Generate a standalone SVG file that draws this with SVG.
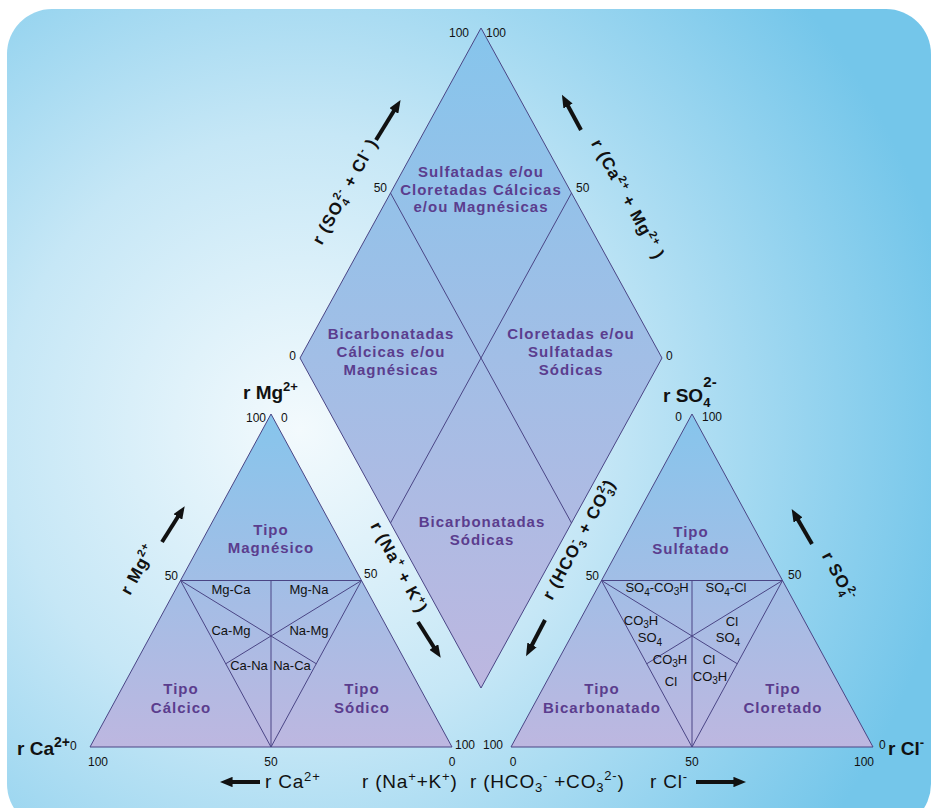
<svg xmlns="http://www.w3.org/2000/svg" width="931" height="808" viewBox="0 0 931 808">
<defs>
<radialGradient id="bg" gradientUnits="userSpaceOnUse" cx="300" cy="430" r="660">
<stop offset="0" stop-color="#f3fafd"/>
<stop offset="0.45" stop-color="#c6e7f6"/>
<stop offset="1" stop-color="#74c6ea"/>
</radialGradient>
<linearGradient id="fillG" x1="0" y1="0" x2="0" y2="1">
<stop offset="0" stop-color="#86c5ec"/>
<stop offset="1" stop-color="#bdb7e0"/>
</linearGradient>
<marker id="ah" viewBox="0 0 10 10" refX="2" refY="5" markerWidth="3.2" markerHeight="2.6" orient="auto" preserveAspectRatio="none">
<path d="M0,0 L10,5 L0,10 z" fill="#111"/>
</marker>
<style>
.shape{fill:url(#fillG);stroke:#4a4585;stroke-width:1}
.ln{stroke:#4a4585;stroke-width:1;fill:none}
.reg{font-family:"Liberation Sans",Arial,sans-serif;font-weight:bold;font-size:15px;fill:#5b3d8e;text-anchor:middle;letter-spacing:1px}
.num{font-family:"Liberation Sans",Arial,sans-serif;font-size:12px;fill:#111}
.mid{text-anchor:middle}
.end{text-anchor:end}
.sm{font-family:"Liberation Sans",Arial,sans-serif;font-size:13px;fill:#111;text-anchor:middle}
.ax{font-family:"Liberation Sans",Arial,sans-serif;font-weight:bold;font-size:19px;fill:#111}
.rot{font-family:"Liberation Sans",Arial,sans-serif;font-weight:bold;font-size:17px;fill:#111;text-anchor:middle;letter-spacing:1px}
.axr{font-family:"Liberation Sans",Arial,sans-serif;font-size:19px;fill:#111;letter-spacing:0.8px}
.arr{stroke:#111;stroke-width:4;fill:none;marker-end:url(#ah)}
</style>
</defs>

<rect x="0" y="0" width="931" height="808" fill="#ffffff"/>
<rect x="7" y="9" width="924" height="820" rx="45" ry="45" fill="url(#bg)"/>

<g id="diamond">
<polygon class="shape" points="481,28 662,358 481,688 300,358"/>
<line class="ln" x1="390.5" y1="193" x2="571.5" y2="523"/>
<line class="ln" x1="571.5" y1="193" x2="390.5" y2="523"/>
<text class="reg" x="481" y="177">Sulfatadas e/ou</text>
<text class="reg" x="481" y="195">Cloretadas Cálcicas</text>
<text class="reg" x="481" y="212">e/ou Magnésicas</text>
<text class="reg" x="391" y="339">Bicarbonatadas</text>
<text class="reg" x="391" y="357">Cálcicas e/ou</text>
<text class="reg" x="391" y="375">Magnésicas</text>
<text class="reg" x="571" y="339">Cloretadas e/ou</text>
<text class="reg" x="571" y="357">Sulfatadas</text>
<text class="reg" x="571" y="375">Sódicas</text>
<text class="reg" x="482" y="527">Bicarbonatadas</text>
<text class="reg" x="482" y="545">Sódicas</text>
<text class="num end" x="469" y="37">100</text>
<text class="num" x="486" y="37">100</text>
<text class="num end" x="387" y="192">50</text>
<text class="num" x="576" y="192">50</text>
<text class="num end" x="296" y="360">0</text>
<text class="num" x="666" y="360">0</text>
</g>

<g id="cation-triangle">
<polygon class="shape" points="90,747 271,414 452,747"/>
<line class="ln" x1="180.5" y1="580.5" x2="361.5" y2="580.5"/>
<line class="ln" x1="180.5" y1="580.5" x2="271" y2="747"/>
<line class="ln" x1="361.5" y1="580.5" x2="271" y2="747"/>
<line class="ln" x1="271" y1="580.5" x2="271" y2="747"/>
<line class="ln" x1="180.5" y1="580.5" x2="316.25" y2="663.75"/>
<line class="ln" x1="361.5" y1="580.5" x2="225.75" y2="663.75"/>
<text class="reg" x="271" y="535">Tipo</text>
<text class="reg" x="271" y="553">Magnésico</text>
<text class="reg" x="181" y="694">Tipo</text>
<text class="reg" x="181" y="713">Cálcico</text>
<text class="reg" x="362" y="694">Tipo</text>
<text class="reg" x="362" y="713">Sódico</text>
<text class="sm" x="231" y="594">Mg-Ca</text>
<text class="sm" x="309" y="594">Mg-Na</text>
<text class="sm" x="231" y="635">Ca-Mg</text>
<text class="sm" x="309" y="635">Na-Mg</text>
<text class="sm" x="249" y="670">Ca-Na</text>
<text class="sm" x="292" y="670">Na-Ca</text>
<text class="ax" x="243" y="399">r Mg<tspan font-size="13" dy="-8">2+</tspan></text>
<text class="num end" x="266" y="422">100</text>
<text class="num" x="281" y="422">0</text>
<text class="num end" x="178" y="580">50</text>
<text class="num" x="364" y="578">50</text>
<text class="ax" x="17" y="755">r Ca<tspan font-size="14" dy="-8">2+</tspan><tspan font-size="12" font-weight="normal" dy="3">0</tspan></text>
<text class="num" x="88" y="766">100</text>
<text class="num mid" x="271" y="766">50</text>
<text class="num mid" x="452" y="766">0</text>
<text class="num" x="455" y="749">100</text>
</g>

<g id="anion-triangle">
<polygon class="shape" points="511,747 692,414 873,747"/>
<g transform="translate(421,0)">
<line class="ln" x1="180.5" y1="580.5" x2="361.5" y2="580.5"/>
<line class="ln" x1="180.5" y1="580.5" x2="271" y2="747"/>
<line class="ln" x1="361.5" y1="580.5" x2="271" y2="747"/>
<line class="ln" x1="271" y1="580.5" x2="271" y2="747"/>
<line class="ln" x1="180.5" y1="580.5" x2="316.25" y2="663.75"/>
<line class="ln" x1="361.5" y1="580.5" x2="225.75" y2="663.75"/>
</g>
<text class="reg" x="691" y="537">Tipo</text>
<text class="reg" x="691" y="554">Sulfatado</text>
<text class="reg" x="602" y="694">Tipo</text>
<text class="reg" x="602" y="713">Bicarbonatado</text>
<text class="reg" x="783" y="694">Tipo</text>
<text class="reg" x="783" y="713">Cloretado</text>
<text class="sm" x="657" y="592">SO<tspan font-size="10" dy="4">4</tspan><tspan dy="-4">-CO</tspan><tspan font-size="10" dy="3">3</tspan><tspan dy="-3">H</tspan></text>
<text class="sm" x="726" y="592">SO<tspan font-size="10" dy="4">4</tspan><tspan dy="-4">-Cl</tspan></text>
<text class="sm" x="641" y="625">CO<tspan font-size="10" dy="3">3</tspan><tspan dy="-3">H</tspan></text>
<text class="sm" x="650" y="642">SO<tspan font-size="10" dy="4">4</tspan></text>
<text class="sm" x="732" y="626">Cl</text>
<text class="sm" x="728" y="642">SO<tspan font-size="10" dy="4">4</tspan></text>
<text class="sm" x="670" y="664">CO<tspan font-size="10" dy="3">3</tspan><tspan dy="-3">H</tspan></text>
<text class="sm" x="671" y="686">Cl</text>
<text class="sm" x="709" y="664">Cl</text>
<text class="sm" x="710" y="681">CO<tspan font-size="10" dy="3">3</tspan><tspan dy="-3">H</tspan></text>
<text class="ax" x="663" y="402">r SO<tspan font-size="13" dy="5">4</tspan><tspan font-size="15" dx="-7" dy="-20">2-</tspan></text>
<text class="num end" x="682" y="421">0</text>
<text class="num" x="702" y="421">100</text>
<text class="num end" x="599" y="580">50</text>
<text class="num" x="788" y="579">50</text>
<text class="num" x="483" y="749">100</text>
<text class="num mid" x="513" y="766">0</text>
<text class="num mid" x="692" y="766">50</text>
<text class="num mid" x="864" y="766">100</text>
<text class="num" x="879" y="749">0</text>
<text class="ax" x="888" y="755">r Cl<tspan font-size="13" dy="-8">-</tspan></text>
</g>

<g id="axis-labels">
<text class="rot" transform="translate(350,194) rotate(-61.3)">r (SO<tspan font-size="11" dy="4">4</tspan><tspan font-size="11" dx="-6" dy="-11">2-</tspan><tspan dy="7"> + Cl</tspan><tspan font-size="11" dy="-7">-</tspan><tspan dy="7"> )</tspan></text>
<text class="rot" transform="translate(623,202) rotate(61.3)">r (Ca<tspan font-size="11" dy="-7">2+</tspan><tspan dy="7"> + Mg</tspan><tspan font-size="11" dy="-7">2+</tspan><tspan dy="7"> )</tspan></text>
<text class="rot" transform="translate(143,572) rotate(-61.5)">r Mg<tspan font-size="11" dy="-7">2+</tspan></text>
<text class="rot" transform="translate(394,570) rotate(61.5)">r (Na<tspan font-size="11" dy="-7">+</tspan><tspan dy="7"> + K</tspan><tspan font-size="11" dy="-7">+</tspan><tspan dy="7">)</tspan></text>
<text class="rot" transform="translate(584,542) rotate(-61.5)">r (HCO<tspan font-size="11" dy="-7">-</tspan><tspan font-size="11" dx="-4" dy="11">3</tspan><tspan dy="-4"> + CO</tspan><tspan font-size="11" dy="-7">2-</tspan><tspan font-size="11" dx="-10" dy="11">3</tspan><tspan dy="-4">)</tspan></text>
<text class="rot" transform="translate(834,579) rotate(61.5)">r SO<tspan font-size="11" dy="4">4</tspan><tspan font-size="11" dx="-6" dy="-11">2-</tspan></text>
<text class="axr" x="265" y="788">r Ca<tspan font-size="13" dy="-7">2+</tspan></text>
<text class="axr" x="362" y="788">r (Na<tspan font-size="13" dy="-7">+</tspan><tspan dy="7">+K</tspan><tspan font-size="13" dy="-7">+</tspan><tspan dy="7">)</tspan></text>
<text class="axr" x="470" y="788">r (HCO<tspan font-size="13" dy="4">3</tspan><tspan font-size="13" dy="-12">-</tspan><tspan dy="8"> +CO</tspan><tspan font-size="13" dy="4">3</tspan><tspan font-size="13" dy="-12">2-</tspan><tspan dy="8">)</tspan></text>
<text class="axr" x="650" y="788">r Cl<tspan font-size="13" dy="-7">-</tspan></text>
</g>

<g id="connectors">
<line class="arr" x1="376" y1="140" x2="395.2" y2="108.8"/>
<line class="arr" x1="581" y1="130" x2="566.8" y2="103.8"/>
<line class="arr" x1="162" y1="542" x2="179.2" y2="514.8"/>
<line class="arr" x1="418" y1="622" x2="435.2" y2="649.2"/>
<line class="arr" x1="545" y1="620" x2="530.8" y2="647.2"/>
<line class="arr" x1="812" y1="544" x2="796.8" y2="517.8"/>
<line class="arr" x1="260" y1="782" x2="230" y2="782"/>
<line class="arr" x1="696" y1="782" x2="736" y2="782"/>
</g>
</svg>
